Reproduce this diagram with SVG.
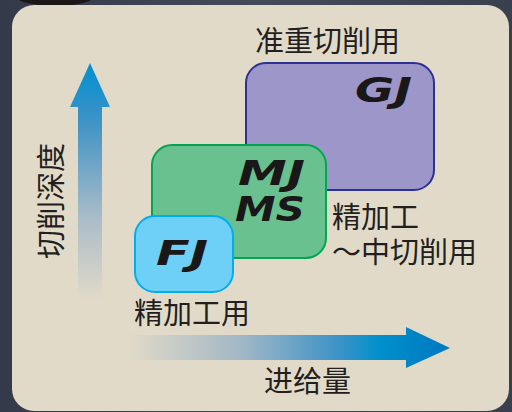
<svg xmlns="http://www.w3.org/2000/svg" width="512" height="412" viewBox="0 0 512 412">
<defs>
<linearGradient id="bg" x1="0" y1="0" x2="1" y2="0">
<stop offset="0" stop-color="#353a4a"/><stop offset="0.5" stop-color="#454a58"/><stop offset="1" stop-color="#3a3f4e"/>
</linearGradient>
<linearGradient id="vgrad" x1="0" y1="1" x2="0" y2="0">
<stop offset="0" stop-color="#e2dac8"/><stop offset="0.35" stop-color="#a9bcc8"/><stop offset="0.75" stop-color="#3f93c6"/><stop offset="1" stop-color="#0090d0"/>
</linearGradient>
<linearGradient id="hgrad" gradientUnits="userSpaceOnUse" x1="127" y1="0" x2="450" y2="0">
<stop offset="0" stop-color="#e2dac8"/><stop offset="0.35" stop-color="#a3b8c6"/><stop offset="0.65" stop-color="#3f93c6"/><stop offset="0.78" stop-color="#0090cc"/><stop offset="1" stop-color="#0078c0"/>
</linearGradient>
<style>
.cjk{font-family:"Noto Sans CJK SC","Noto Sans CJK JP",sans-serif;font-size:29px;fill:#231f20}
.code{font-family:"DejaVu Sans",sans-serif;font-weight:bold;font-style:italic;font-size:33px;fill:#1a1718}
</style>
</defs>
<rect width="512" height="412" fill="url(#bg)"/>
<ellipse cx="55" cy="-3" rx="38" ry="9" fill="#1c1616"/>
<rect x="12" y="5" width="497" height="406" rx="22" fill="#e2dac8"/>

<g id="axes">
<polygon points="78,300 78,107 70,107 90,63 110,107 102,107 102,300" fill="url(#vgrad)"/>
<polygon points="127,335 406,335 406,327 450,348 406,368 406,360 127,360" fill="url(#hgrad)"/>
</g>

<g id="GJ">
<rect x="246" y="63" width="188" height="127" rx="20" fill="#9c96c9" stroke="#2e3192" stroke-width="2"/>
<text class="code" x="355" y="102" textLength="57" lengthAdjust="spacingAndGlyphs">GJ</text>
</g>
<g id="MJMS">
<rect x="152" y="145" width="174" height="113" rx="20" fill="#68c18e" stroke="#00a651" stroke-width="2"/>
<text class="code" x="238" y="185" textLength="67" lengthAdjust="spacingAndGlyphs">MJ</text>
<text class="code" x="235" y="221" textLength="70" lengthAdjust="spacingAndGlyphs">MS</text>
</g>
<g id="FJ">
<rect x="135" y="216" width="98" height="76" rx="20" fill="#6ed0f6" stroke="#00aeef" stroke-width="2"/>
<text class="code" x="156" y="265" textLength="52" lengthAdjust="spacingAndGlyphs">FJ</text>
</g>

<g id="labels">
<text class="cjk" x="255" y="52">准重切削用</text>
<text class="cjk" x="332" y="228">精加工</text>
<text class="cjk" x="332" y="263">～中切削用</text>
<text class="cjk" x="134" y="324">精加工用</text>
<text class="cjk" x="264" y="392">进给量</text>
<text class="cjk" transform="translate(62,259) rotate(-90)">切削深度</text>
</g>
</svg>
